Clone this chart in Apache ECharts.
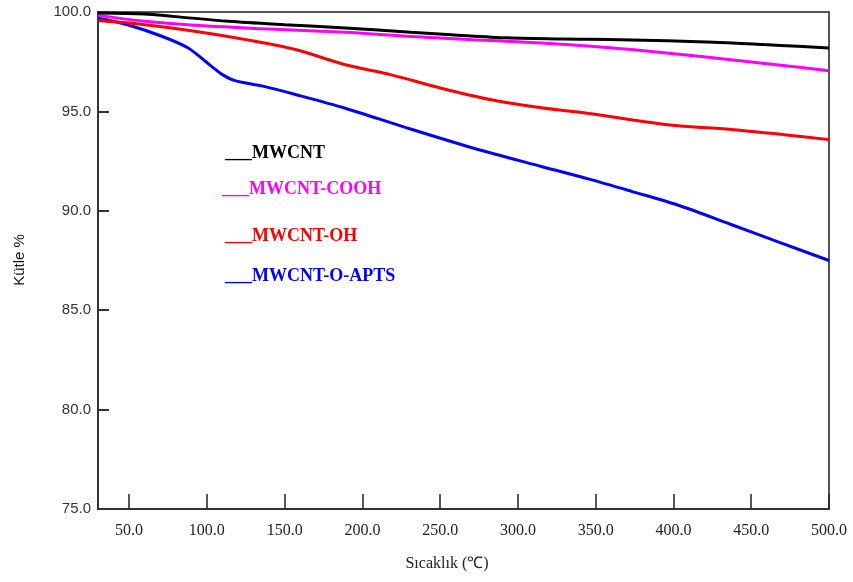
<!DOCTYPE html>
<html>
<head>
<meta charset="utf-8">
<script src="https://cdn.jsdelivr.net/npm/echarts@6/dist/echarts.min.js"></script>
<style>html,body{margin:0;padding:0;background:#fff}#c{width:853px;height:582px}</style>
</head>
<body>
<div id="c"></div>
<script>
const seriesNames = ['MWCNT', 'MWCNT-COOH', 'MWCNT-OH', 'MWCNT-O-APTS'];
const seriesColors = ['#000000', '#ff00ff', '#ff0000', '#0000ff'];
const xTicks = [50, 100, 150, 200, 250, 300, 350, 400, 450, 500];
const yTicks = [75, 80, 85, 90, 95, 100];

const mwcnt = [[30,99.95],[60,99.9],[78,99.78],[114,99.53],[150,99.36],[189,99.2],[231,98.98],[257,98.86],[293,98.7],[328,98.64],[366,98.61],[426,98.48],[458,98.36],[480,98.28],[500,98.19]];
const mwcntCooh = [[30,99.83],[60,99.53],[92,99.33],[136,99.16],[189,98.98],[229,98.78],[271,98.61],[315,98.44],[347,98.28],[373,98.11],[405,97.86],[437,97.6],[469,97.32],[500,97.05]];
const mwcntOh = [[30,99.57],[60,99.36],[92,99.03],[125,98.61],[157,98.11],[189,97.35],[218,96.85],[250,96.18],[282,95.6],[315,95.18],[347,94.88],[396,94.33],[439,94.08],[471,93.83],[500,93.58]];
const mwcntApts = [[30,99.7],[49,99.36],[71,98.78],[88,98.19],[99,97.52],[110,96.85],[118,96.55],[136,96.27],[157,95.85],[189,95.16],[229,94.16],[271,93.16],[315,92.23],[347,91.57],[373,90.98],[405,90.23],[437,89.31],[469,88.39],[500,87.5]];
const allData = [mwcnt, mwcntCooh, mwcntOh, mwcntApts];

const legendY = [151, 187, 234, 274];
const legendX = [225, 222, 225, 225];

const chart = echarts.init(document.getElementById('c'));
chart.setOption({
  backgroundColor: '#fff',
  animation: false,
  grid: { left: 98, right: 24, top: 12, bottom: 73, show: true, borderColor: '#555', borderWidth: 2 },
  xAxis: {
    type: 'value', min: 30, max: 500,
    axisLine: { show: true, lineStyle: { color: '#333', width: 2 } },
    axisTick: { show: true, inside: true, length: 15, customValues: xTicks, lineStyle: { color: '#222', width: 1.5 } },
    axisLabel: { customValues: xTicks, formatter: v => v.toFixed(1), fontFamily: 'Liberation Serif', fontSize: 16, color: '#222', margin: 14 },
    splitLine: { show: false }
  },
  yAxis: {
    type: 'value', min: 75, max: 100, interval: 5,
    axisLine: { show: true, lineStyle: { color: '#333', width: 2 } },
    axisTick: { show: true, inside: true, length: 11, lineStyle: { color: '#333', width: 2 } },
    axisLabel: { formatter: v => v.toFixed(1), fontFamily: 'Liberation Sans', fontSize: 15, color: '#333', margin: 7 },
    splitLine: { show: false }
  },
  series: allData.map((d, i) => ({
    type: 'line', name: seriesNames[i], data: d, showSymbol: false, smooth: 0.3,
    lineStyle: { color: seriesColors[i], width: 3 }, z: 10 - i
  })),
  graphic: [
    ...seriesNames.map((n, i) => ({
      type: 'text', x: legendX[i], y: legendY[i] + 2,
      style: { text: '___' + n, fill: seriesColors[i], font: 'bold 18px "Liberation Serif"', verticalAlign: 'middle', align: 'left' }
    })),
    { type: 'text', x: 447, y: 564, style: { text: 'Sıcaklık (℃)', fill: '#222', font: '16px "Liberation Serif"', align: 'center', verticalAlign: 'middle' } },
    { type: 'text', x: 20, y: 260, rotation: Math.PI / 2, style: { text: 'Kütle %', fill: '#111', fontFamily: 'Liberation Sans', fontSize: 15, align: 'center', verticalAlign: 'middle' } }
  ]
});
</script>
</body>
</html>
